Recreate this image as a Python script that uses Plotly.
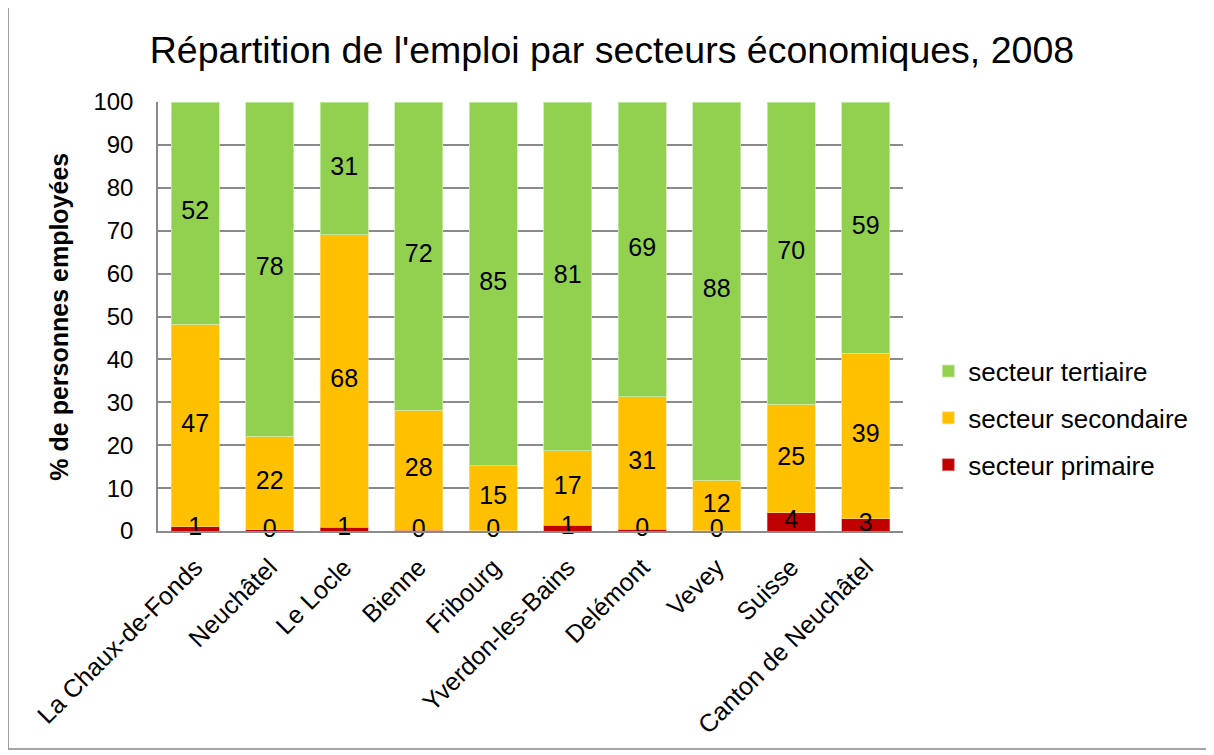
import plotly.graph_objects as go

FONT = 'Liberation Sans, Arial, sans-serif'
GRID = '#8a8a8a'

communes = ['La Chaux-de-Fonds', 'Neuchâtel', 'Le Locle', 'Bienne', 'Fribourg',
            'Yverdon-les-Bains', 'Delémont', 'Vevey', 'Suisse', 'Canton de Neuchâtel']

primaire   = [1.0, 0.3, 0.9, 0.2, 0.1, 1.3, 0.4, 0.1, 4.3, 2.8]
secondaire = [47.2, 21.8, 68.2, 28.0, 15.1, 17.4, 30.9, 11.7, 25.3, 38.6]
tertiaire  = [51.8, 77.9, 30.9, 71.8, 84.8, 81.3, 68.7, 88.2, 70.4, 58.6]

# name, values, fill colour, edge colour, legend rank
series = [('secteur primaire', primaire, '#C00000', 'rgba(230,120,120,0.6)', 3),
          ('secteur secondaire', secondaire, '#FFC000', 'rgba(255,220,140,0.6)', 2),
          ('secteur tertiaire', tertiaire, '#92D050', 'rgba(200,235,170,0.8)', 1)]

fig = go.Figure()

#stacked bars
for name, vals, color, edge, rank in series:
    fig.add_trace(go.Bar(x=communes, y=vals, name=name, legendgroup=name, legendrank=rank,
                         marker=dict(color=color, line=dict(color=edge, width=1)),
                         hoverinfo='x+y+name'))

#data labels centred in each segment
base = [0.0] * len(communes)
for name, vals, color, edge, rank in series:
    mids = [b + v / 2 for b, v in zip(base, vals)]
    fig.add_trace(go.Scatter(x=communes, y=mids, mode='text', text=[f'{v:.0f}' for v in vals],
                             textfont=dict(family=FONT, size=25, color='black'),
                             showlegend=False, hoverinfo='skip', cliponaxis=False))
    base = [b + v for b, v in zip(base, vals)]

fig.update_layout(
    width=1206, height=747,
    barmode='stack', bargap=0.355,
    paper_bgcolor='white', plot_bgcolor='white',
    margin=dict(l=150, r=311, t=94, b=224, autoexpand=False),
    font=dict(family=FONT, size=24, color='black'),
    title=dict(text="Répartition de l'emploi par secteurs économiques, 2008",
               font=dict(family=FONT, size=37.5, color='black'),
               xref='container', x=0.5008, xanchor='center',
               yref='container', y=0.9438, yanchor='middle'),
    legend=dict(x=1.034, xanchor='left', y=0.263, yanchor='middle',
                traceorder='grouped', tracegroupgap=10,
                font=dict(family=FONT, size=26, color='black'),
                bgcolor='rgba(0,0,0,0)'),
    showlegend=True,
)

fig.update_yaxes(range=[0, 100], dtick=10, showgrid=True, gridcolor=GRID, gridwidth=1.5,
                 showline=True, linecolor=GRID, linewidth=1.5, ticks='',
                 ticklabelstandoff=18, zeroline=False,
                 tickfont=dict(family=FONT, size=24, color='black'))
fig.update_xaxes(showline=True, linecolor=GRID, linewidth=1.5, ticks='', tickangle=-45,
                 ticklabelstandoff=10,
                 tickfont=dict(family=FONT, size=25, color='black'))

#y axis title as annotation
fig.add_annotation(text='<b>% de personnes employées</b>', xref='paper', yref='paper',
                   x=-0.134, y=0.5, xanchor='center', yanchor='middle', textangle=-90,
                   showarrow=False, font=dict(family=FONT, size=25, color='black'))

#outer chart border
fig.add_shape(type='rect', xref='paper', yref='paper', x0=-0.2013, x1=1.4107,
              y0=-0.5082, y1=1.2238, line=dict(color='#888888', width=1.5), layer='below')

fig.write_html('out.html')
